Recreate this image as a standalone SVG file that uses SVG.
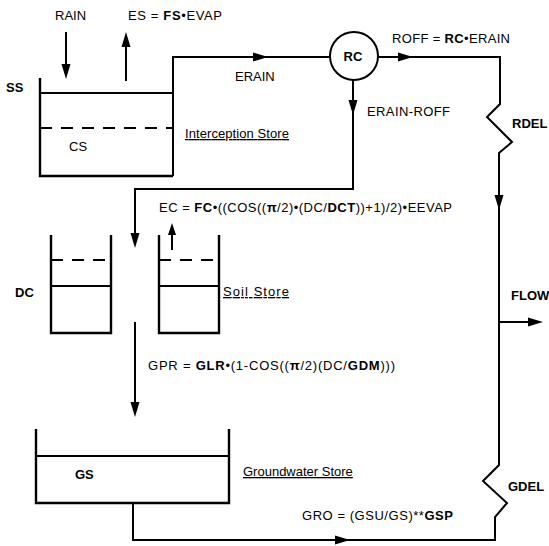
<svg xmlns="http://www.w3.org/2000/svg" xmlns:xlink="http://www.w3.org/1999/xlink" width="549" height="546" viewBox="0 0 549 546">
<style>
  text { font-family: "Liberation Sans", Arial, Helvetica, sans-serif; font-size: 13px; fill: #000; }
  .b { font-weight: bold; }
  .u { text-decoration: underline; }
  .ln { fill: none; stroke: #000; stroke-width: 2; stroke-linejoin: miter; }
  .wall { fill: none; stroke: #000; stroke-width: 2.4; }
  .dash { fill: none; stroke: #000; stroke-width: 2; stroke-dasharray: 12 9; }
  .ah { fill: #000; stroke: none; }
</style>
<defs>
  <path id="ah" class="ah" d="M0,0 L-15,-4.5 L-15,4.5 Z"/>
  <path id="ahs" class="ah" d="M0,0 L-12,-4 L-12,4 Z"/>
</defs>
<rect x="0" y="0" width="549" height="546" fill="#fff"/>

<g id="connectors">
  <!-- RAIN in -->
  <path class="ln" d="M66,32 V68"/>
  <use xlink:href="#ah" transform="translate(66,79) rotate(90)"/>
  <!-- ES out -->
  <path class="ln" d="M126,81 V44"/>
  <use xlink:href="#ah" transform="translate(126,32) rotate(-90)"/>
  <!-- ERAIN to RC -->
  <path class="ln" d="M173,176 V57 H330"/>
  <use xlink:href="#ah" transform="translate(268,57)"/>
  <!-- ROFF loop to FLOW and back from groundwater -->
  <path class="ln" d="M378,57 H500 V104 L487,117 L512,142 L499,153 V465 L483,481 L507,503 L495,517 V540 H133 V503"/>
  <use xlink:href="#ah" transform="translate(413,57)"/>
  <use xlink:href="#ah" transform="translate(499,210) rotate(90)"/>
  <use xlink:href="#ah" transform="translate(350,540)"/>
  <!-- FLOW out -->
  <path class="ln" d="M499,322 H532"/>
  <use xlink:href="#ah" transform="translate(543,322)"/>
  <!-- ERAIN-ROFF to soil -->
  <path class="ln" d="M353,80 V189 H135 V238"/>
  <use xlink:href="#ah" transform="translate(353,115) rotate(90)"/>
  <use xlink:href="#ah" transform="translate(135,248) rotate(90)"/>
  <!-- EC out -->
  <path class="ln" d="M172,250 V232"/>
  <use xlink:href="#ahs" transform="translate(172,223) rotate(-90)"/>
  <!-- GPR -->
  <path class="ln" d="M135,322 V406"/>
  <use xlink:href="#ah" transform="translate(135,417) rotate(90)"/>
</g>

<g id="RC">
  <circle cx="354" cy="56" r="24" fill="#fff" stroke="#000" stroke-width="2"/>
  <text class="b" x="353" y="61" text-anchor="middle">RC</text>
</g>

<g id="interception-store">
  <path class="wall" d="M40,78 V176 H173"/>
  <path class="ln" d="M40,93 H173"/>
  <path class="dash" d="M40,128 H173"/>
  <text x="69" y="151">CS</text>
  <text class="b" x="6" y="92">SS</text>
  <text class="u" x="185" y="138" textLength="104">Interception Store</text>
</g>

<g id="soil-store">
  <path class="wall" d="M51,235 V333 H111 V235"/>
  <path class="dash" d="M51,260 H111"/>
  <path class="ln" d="M51,286 H111"/>
  <path class="wall" d="M159,235 V333 H219 V235"/>
  <path class="dash" d="M159,260 H219"/>
  <path class="ln" d="M159,286 H219"/>
  <text class="b" x="15" y="297">DC</text>
  <text class="u" x="223" y="296" textLength="66">Soil Store</text>
</g>

<g id="groundwater-store">
  <path class="wall" d="M36,429 V503 H229 V429"/>
  <path class="ln" d="M36,456 H229"/>
  <text class="b" x="75" y="479">GS</text>
  <text class="u" x="243" y="476">Groundwater Store</text>
</g>

<g id="labels">
  <text x="55" y="20">RAIN</text>
  <text x="128" y="20" textLength="94">ES = <tspan class="b">FS</tspan>•EVAP</text>
  <text x="235" y="81">ERAIN</text>
  <text x="392" y="43" textLength="118">ROFF = <tspan class="b">RC</tspan>•ERAIN</text>
  <text x="367" y="116" textLength="83">ERAIN-ROFF</text>
  <text class="b" x="512" y="128">RDEL</text>
  <text x="159" y="212" textLength="293">EC = <tspan class="b">FC</tspan>•((COS((<tspan class="b">π</tspan>/2)•(DC/<tspan class="b">DCT</tspan>))+1)/2)•EEVAP</text>
  <text class="b" x="511" y="300">FLOW</text>
  <text x="148" y="370" textLength="247">GPR = <tspan class="b">GLR</tspan>•(1-COS((<tspan class="b">π</tspan>/2)(DC/<tspan class="b">GDM</tspan>)))</text>
  <text class="b" x="508" y="491">GDEL</text>
  <text x="302" y="520" textLength="151">GRO = (GSU/GS)**<tspan class="b">GSP</tspan></text>
</g>
</svg>
